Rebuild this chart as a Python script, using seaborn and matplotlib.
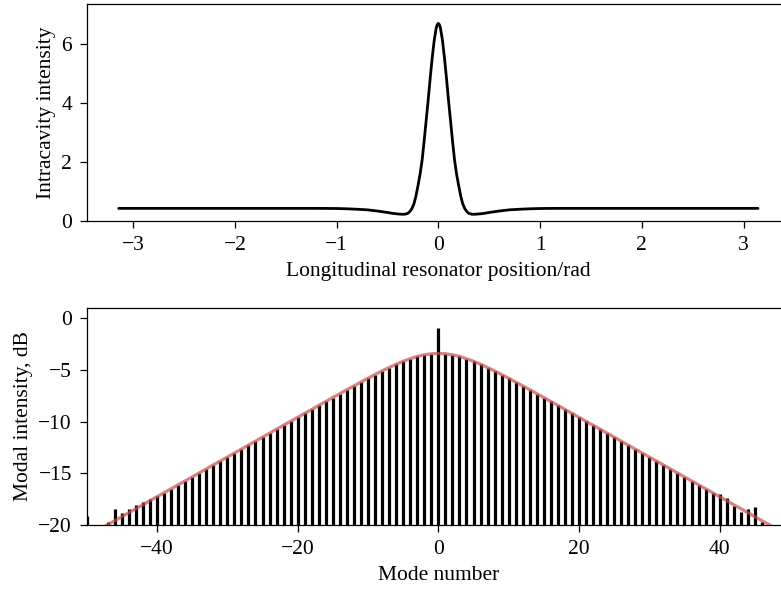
import matplotlib
matplotlib.use("Agg")
import matplotlib.pyplot as plt
import seaborn as sns
import pandas as pd

# Intracavity field intensity along the ring (soliton on a CW background)
theta = [-3.1416, -2.5, -2.0, -1.5, -1.2, -1.0, -0.9, -0.8, -0.7, -0.6, -0.5,
         -0.45, -0.40, -0.36, -0.33, -0.30, -0.28, -0.26, -0.24, -0.22, -0.20,
         -0.18, -0.16, -0.14, -0.12, -0.10, -0.08, -0.06, -0.04, -0.02, -0.01,
         0.0,
         0.01, 0.02, 0.04, 0.06, 0.08, 0.10, 0.12, 0.14, 0.16, 0.18, 0.20,
         0.22, 0.24, 0.26, 0.28, 0.30, 0.33, 0.36, 0.40, 0.45, 0.5, 0.6, 0.7,
         0.8, 0.9, 1.0, 1.2, 1.5, 2.0, 2.5, 3.1416]
intensity = [0.43, 0.43, 0.43, 0.43, 0.43, 0.425, 0.415, 0.40, 0.38, 0.34, 0.29,
             0.26, 0.24, 0.23, 0.23, 0.26, 0.32, 0.42, 0.58, 0.85, 1.20,
             1.58, 2.05, 2.70, 3.40, 4.10, 4.85, 5.55, 6.15, 6.57, 6.67,
             6.71,
             6.67, 6.57, 6.15, 5.55, 4.85, 4.10, 3.40, 2.70, 2.05, 1.58, 1.20,
             0.85, 0.58, 0.42, 0.32, 0.26, 0.23, 0.23, 0.24, 0.26, 0.29, 0.34, 0.38,
             0.40, 0.415, 0.425, 0.43, 0.43, 0.43, 0.43, 0.43]

# Comb line powers, modes -50 .. 50 (dB)
modes = list(range(-50, 51))
mode_power_db = [
    -19.10, -20.60, -20.60, -19.75, -18.47, -18.85, -18.47, -18.05, -17.80, -17.50, -17.20,
    -16.88, -16.50, -16.12, -15.73, -15.35, -14.96, -14.58, -14.19, -13.81, -13.43,
    -13.04, -12.66, -12.27, -11.89, -11.50, -11.12, -10.73, -10.35, -9.97, -9.58,
    -9.20, -8.82, -8.43, -8.05, -7.67, -7.29, -6.91, -6.54, -6.17, -5.80,
    -5.44, -5.09, -4.76, -4.45, -4.16, -3.91, -3.69, -3.53, -3.43,
    -0.90,
    -3.43, -3.53, -3.69, -3.91, -4.16, -4.45, -4.76, -5.09, -5.44, -5.80,
    -6.17, -6.54, -6.91, -7.29, -7.67, -8.05, -8.43, -8.82, -9.20, -9.58,
    -9.97, -10.35, -10.73, -11.12, -11.50, -11.89, -12.27, -12.66, -13.04, -13.43,
    -13.81, -14.19, -14.58, -14.96, -15.35, -15.73, -16.12, -16.50, -16.88,
    -17.00, -17.40, -18.15, -18.70, -18.48, -18.22, -19.75, -20.60, -20.60, -20.60, -20.60,
]

# Spectral envelope, modes -48 .. 48 (dB)
env_modes = list(range(-48, 49))
envelope_db = [
    -20.34, -19.96, -19.58, -19.19, -18.81, -18.42, -18.04, -17.65, -17.27, -16.88,
    -16.50, -16.12, -15.73, -15.35, -14.96, -14.58, -14.19, -13.81, -13.43, -13.04,
    -12.66, -12.27, -11.89, -11.50, -11.12, -10.73, -10.35, -9.97, -9.58, -9.20,
    -8.82, -8.43, -8.05, -7.67, -7.29, -6.91, -6.54, -6.17, -5.80, -5.44,
    -5.09, -4.76, -4.45, -4.16, -3.91, -3.69, -3.53, -3.43,
    -3.40,
    -3.43, -3.53, -3.69, -3.91, -4.16, -4.45, -4.76, -5.09, -5.44, -5.80,
    -6.17, -6.54, -6.91, -7.29, -7.67, -8.05, -8.43, -8.82, -9.20, -9.58,
    -9.97, -10.35, -10.73, -11.12, -11.50, -11.89, -12.27, -12.66, -13.04, -13.43,
    -13.81, -14.19, -14.58, -14.96, -15.35, -15.73, -16.12, -16.50, -16.88, -17.27,
    -17.65, -18.04, -18.42, -18.81, -19.19, -19.58, -19.96, -20.34,
]

FS = 15.5

sns.set_style("ticks")
plt.rcParams["font.family"] = ["Liberation Serif", "DejaVu Serif"]
plt.rcParams["font.size"] = FS
plt.rcParams["xtick.major.size"] = 4.8
plt.rcParams["ytick.major.size"] = 4.8
plt.rcParams["xtick.major.pad"] = 5.8
plt.rcParams["ytick.major.pad"] = 5.8
plt.rcParams["axes.labelpad"] = 5.5
plt.rcParams["axes.edgecolor"] = "black"
plt.rcParams["axes.linewidth"] = 0.9
plt.rcParams["xtick.color"] = "black"
plt.rcParams["ytick.color"] = "black"
plt.rcParams["axes.labelcolor"] = "black"

fig = plt.figure(figsize=(7.81, 5.90), dpi=100)
ax1 = fig.add_axes([0.111, 0.6254, 0.9005, 0.3678])
ax2 = fig.add_axes([0.111, 0.1102, 0.9005, 0.3678])

# Top: intensity profile
field = pd.DataFrame({"theta": theta, "intensity": intensity})
sns.lineplot(data=field, x="theta", y="intensity", ax=ax1, color="black",
             linewidth=2.0, sort=False, errorbar=None)
ax1.set_xlim(-3.456, 3.456)
ax1.set_ylim(0, 7.37)
ax1.set_xticks([-3, -2, -1, 0, 1, 2, 3])
ax1.set_yticks([0, 2, 4, 6])
ax1.set_xlabel("Longitudinal resonator position/rad", fontsize=FS)
ax1.set_ylabel("Intracavity intensity", fontsize=FS, labelpad=4)

# Bottom: comb spectrum with envelope
ax2.vlines(modes, -20, mode_power_db, color="black", linewidth=2.3, zorder=2)
spec = pd.DataFrame({"mode": env_modes, "power": envelope_db})
sns.lineplot(data=spec, x="mode", y="power", ax=ax2, color="#c44e52",
             alpha=0.7, linewidth=2.3, errorbar=None, zorder=3)
ax2.set_xlim(-50, 50)
ax2.set_ylim(-20, 1)
ax2.set_xticks([-40, -20, 0, 20, 40])
ax2.set_yticks([0, -5, -10, -15, -20])
ax2.set_xlabel("Mode number", fontsize=FS)
ax2.set_ylabel("Modal intensity, dB", fontsize=FS, labelpad=4)

for ax in (ax1, ax2):
    ax.tick_params(labelsize=FS, width=0.9)

fig.savefig("out.png", dpi=100)
